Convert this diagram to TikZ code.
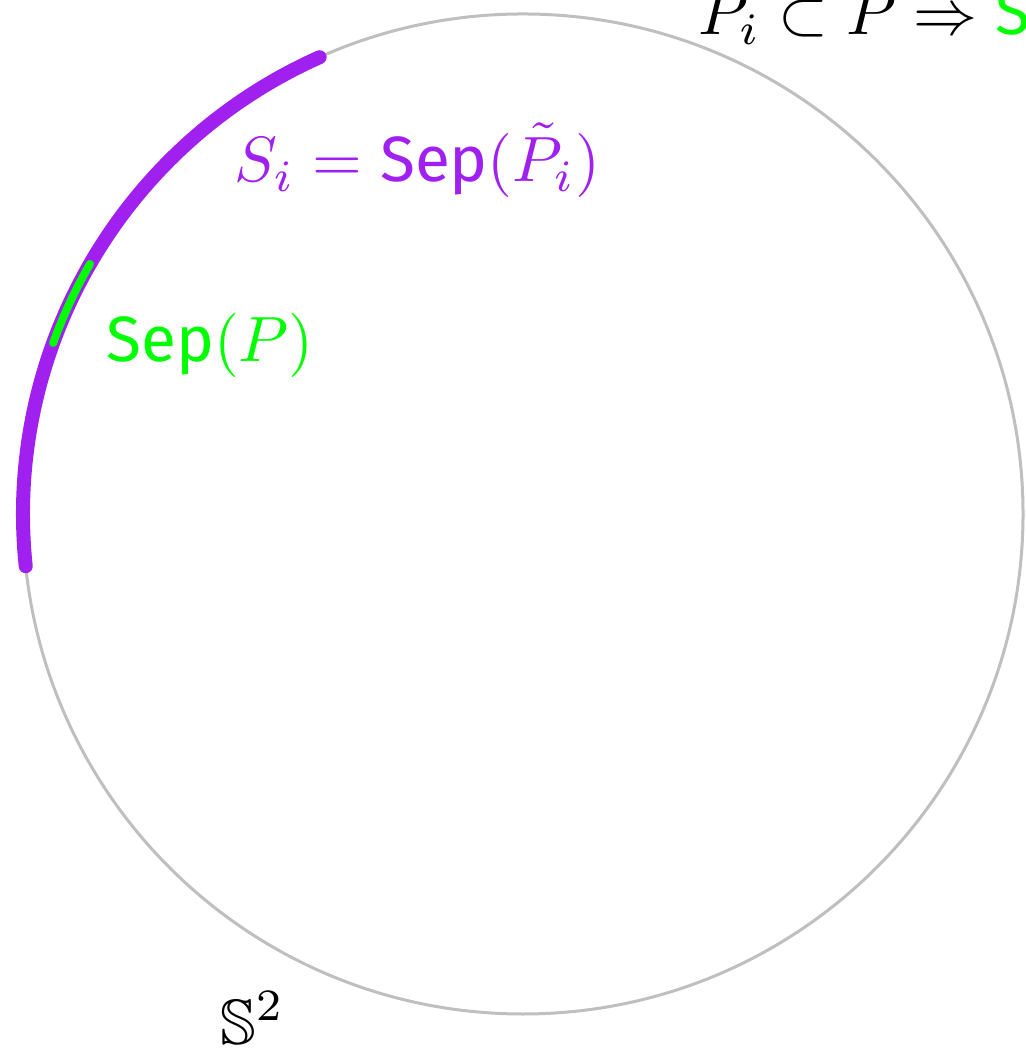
\documentclass[tikz,border=0pt]{standalone}
\usepackage{amssymb}
\usepackage{fontspec}
\newfontfamily\firafont{Fira Sans}
\newcommand\Sepop{\mbox{\firafont Sep}}
\definecolor{arcpurple}{RGB}{160,32,240}
\definecolor{arcgreen}{RGB}{0,255,0}
\definecolor{circgray}{RGB}{191,191,191}
\begin{document}
\begin{tikzpicture}[x=0.2pt,y=0.2pt,
  lbl/.style={inner sep=0pt,anchor=base west,scale=1.28}]
\useasboundingbox (-523,-534) rectangle (502,514);
\coordinate (O) at (0,0);
\draw[circgray,line width=0.6pt] (O) circle (500);
\draw[arcpurple,line width=2.8pt,line cap=round] (186:500) arc (186:114:500);
\draw[arcgreen,line width=1.6pt,line cap=round] (160:500) arc (160:150:500);
\node[lbl,text=arcpurple] (si) at (-290,332) {$S_i = \Sepop(\tilde{P}_i)$};
\node[lbl,text=arcgreen] (sp) at (-418,152) {$\Sepop(P)$};
\node[lbl] (s2) at (-304,-530) {$\mathbb{S}^2$};
\node[lbl] (top) at (174,479) {$P_i \subset P \Rightarrow \textcolor{arcgreen}{\Sepop(P)} \subset \textcolor{arcpurple}{S_i}$};
\end{tikzpicture}
\end{document}
